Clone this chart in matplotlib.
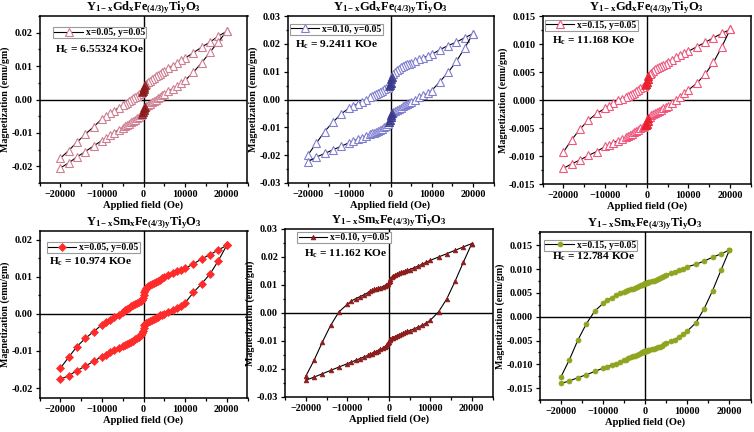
import matplotlib
matplotlib.use("Agg")
import matplotlib.pyplot as plt
from matplotlib.ticker import MultipleLocator, FormatStrFormatter

plt.rcParams['font.family'] = ['Liberation Serif', 'DejaVu Serif']
plt.rcParams['font.weight'] = 'bold'
plt.rcParams['mathtext.fontset'] = 'custom'
plt.rcParams['mathtext.rm'] = 'Liberation Serif:bold'
plt.rcParams['mathtext.it'] = 'Liberation Serif:bold'
plt.rcParams['mathtext.bf'] = 'Liberation Serif:bold'

# Applied field, descending branch (upper) ; lower branch uses the reverse order
H_up = [20000, 18000, 16000, 14000, 12000, 10000, 9000, 8000, 7000, 6000, 5000, 4500, 4000,
        3500, 3000, 2500, 2000, 1500, 1000, 700, 400, 200, 0, -200, -400, -700, -1000, -1500,
        -2000, -2500, -3000, -3500, -4000, -4500, -5000, -6000, -7000, -8000, -9000, -10000,
        -12000, -14000, -16000, -18000, -20000]
H_low = H_up[::-1]

# Gd x=0.05
gd05_up = [.0204, .0190, .0172, .0157, .0140, .0124, .0117, .0109, .0101, .0093, .0085, .0081, .0077,
           .0073, .0069, .0065, .0060, .0056, .0051, .0047, .0042, .0036, .0030, .0025, .0021, .0018,
           .0015, .0011, .0007, .0003, -.0001, -.0005, -.0009, -.0013, -.0017, -.0025, -.0033, -.0041,
           -.0049, -.0058, -.0082, -.0104, -.0128, -.0153, -.0176]
gd05_low = [-.0205, -.0190, -.0172, -.0156, -.0139, -.0123, -.0115, -.0107, -.0099, -.0091, -.0084,
            -.0080, -.0076, -.0072, -.0068, -.0064, -.0060, -.0056, -.0051, -.0047, -.0042, -.0037,
            -.0032, -.0026, -.0022, -.0019, -.0016, -.0012, -.0008, -.0004, .0000, .0004, .0008, .0012,
            .0016, .0024, .0032, .0040, .0048, .0057, .0082, .0110, .0142, .0173, .0204]
# Gd x=0.10
gd10_up = [.0236, .0222, .0206, .0194, .0179, .0162, .0156, .0150, .0144, .0138, .0132, .0129, .0126,
           .0123, .0119, .0115, .0111, .0106, .0099, .0092, .0082, .0072, .0060, .0052, .0047, .0043,
           .0040, .0036, .0032, .0028, .0024, .0020, .0016, .0012, .0008, -.0001, -.0009, -.0016,
           -.0023, -.0030, -.0052, -.0082, -.0115, -.0157, -.0198]
gd10_low = [-.0223, -.0207, -.0194, -.0181, -.0168, -.0155, -.0149, -.0143, -.0137, -.0131, -.0125,
            -.0122, -.0119, -.0116, -.0113, -.0109, -.0105, -.0100, -.0094, -.0088, -.0080, -.0072,
            -.0062, -.0054, -.0048, -.0044, -.0041, -.0037, -.0033, -.0029, -.0025, -.0021, -.0017,
            -.0013, -.0009, .0000, .0008, .0015, .0022, .0032, .0064, .0098, .0137, .0185, .0236]
# Gd x=0.15
gd15_up = [.0126, .0119, .0111, .0103, .0095, .0087, .0084, .0081, .0076, .0071, .0067, .0065, .0063,
           .0061, .0059, .0057, .0055, .0052, .0049, .0046, .0042, .0038, .0033, .0029, .0027, .0025,
           .0024, .0021, .0018, .0016, .0013, .0011, .0009, .0007, .0005, .0002, .0000, -.0006,
           -.0010, -.0015, -.0024, -.0036, -.0052, -.0071, -.0093]
gd15_low = [-.0122, -.0114, -.0107, -.0099, -.0092, -.0083, -.0080, -.0076, -.0073, -.0070, -.0066,
            -.0064, -.0062, -.0060, -.0058, -.0055, -.0053, -.0050, -.0048, -.0046, -.0045, -.0044,
            -.0042, -.0038, -.0033, -.0030, -.0027, -.0025, -.0023, -.0021, -.0019, -.0017, -.0015,
            -.0013, -.0011, -.0006, .0000, .0006, .0012, .0018, .0030, .0046, .0067, .0095, .0126]
# Sm x=0.05
sm05_up = [.0185, .0173, .0160, .0149, .0135, .0123, .0119, .0115, .0110, .0104, .0099, .0096, .0093,
           .0090, .0087, .0084, .0081, .0078, .0075, .0071, .0065, .0058, .0050, .0042, .0037, .0034,
           .0032, .0030, .0027, .0024, .0021, .0017, .0014, .0010, .0006, -.0002, -.0009, -.0016,
           -.0022, -.0029, -.0048, -.0066, -.0088, -.0117, -.0147]
sm05_low = [-.0176, -.0167, -.0153, -.0141, -.0128, -.0115, -.0110, -.0104, -.0098, -.0092, -.0087,
            -.0084, -.0081, -.0078, -.0075, -.0072, -.0069, -.0066, -.0062, -.0058, -.0052, -.0045,
            -.0038, -.0031, -.0027, -.0024, -.0022, -.0019, -.0016, -.0013, -.0010, -.0007, -.0004,
            -.0002, .0001, .0006, .0011, .0016, .0022, .0030, .0058, .0082, .0108, .0144, .0185]
# Sm x=0.10
sm10_up = [.0248, .0236, .0224, .0212, .0200, .0188, .0181, .0174, .0167, .0161, .0155, .0153, .0150,
           .0148, .0145, .0142, .0139, .0135, .0131, .0127, .0122, .0116, .0110, .0104, .0101, .0099,
           .0097, .0094, .0091, .0089, .0086, .0084, .0081, .0077, .0073, .0065, .0058, .0051, .0043,
           .0031, .0004, -.0044, -.0104, -.0169, -.0226]
sm10_low = [-.0240, -.0229, -.0217, -.0205, -.0193, -.0181, -.0175, -.0169, -.0163, -.0157, -.0151,
            -.0148, -.0145, -.0141, -.0138, -.0134, -.0130, -.0126, -.0121, -.0117, -.0112, -.0108,
            -.0104, -.0097, -.0093, -.0090, -.0088, -.0085, -.0081, -.0078, -.0075, -.0072, -.0069,
            -.0066, -.0063, -.0057, -.0051, -.0044, -.0036, -.0026, .0004, .0051, .0114, .0182, .0248]
# Sm x=0.15
sm15_up = [.0140, .0132, .0125, .0117, .0110, .0105, .0101, .0098, .0094, .0091, .0088, .0086, .0084,
           .0082, .0080, .0078, .0076, .0075, .0073, .0072, .0071, .0070, .0070, .0069, .0068, .0067,
           .0066, .0065, .0063, .0061, .0059, .0058, .0056, .0054, .0052, .0049, .0045, .0040, .0035,
           .0028, .0012, -.0015, -.0049, -.0090, -.0126]
sm15_low = [-.0140, -.0135, -.0128, -.0122, -.0115, -.0108, -.0105, -.0101, -.0099, -.0096, -.0092,
            -.0090, -.0087, -.0085, -.0083, -.0082, -.0080, -.0078, -.0076, -.0075, -.0074, -.0073,
            -.0073, -.0072, -.0071, -.0070, -.0069, -.0068, -.0068, -.0066, -.0064, -.0063, -.0061,
            -.0058, -.0056, -.0052, -.0048, -.0043, -.0037, -.0030, -.0013, .0017, .0055, .0098, .0140]

titles = [r'$\mathrm{Y_{1-x}Gd_{x}Fe_{(4/3)y}Ti_{y}O_{3}}$'] * 3 + \
         [r'$\mathrm{Y_{1-x}Sm_{x}Fe_{(4/3)y}Ti_{y}O_{3}}$'] * 3
legend_labels = ['x=0.05, y=0.05', 'x=0.10, y=0.05', 'x=0.15, y=0.05',
                 'x=0.05, y=0.05', 'x=0.10, y=0.05', 'x=0.15, y=0.05']
hc_values = ['6.55324', '9.2411', '11.168', '10.974', '11.162', '12.784']
ups = [gd05_up, gd10_up, gd15_up, sm05_up, sm10_up, sm15_up]
lows = [gd05_low, gd10_low, gd15_low, sm05_low, sm10_low, sm15_low]

# styling
positions = [
    (39.5, 16, 247.5, 183), (287.5, 16, 493.5, 183), (542.5, 16, 751, 184),
    (39.5, 231, 247.5, 398), (285, 229, 492.5, 397), (540, 232, 750.5, 400),
]
ylims = [(-0.025, 0.025), (-0.03, 0.03), (-0.015, 0.015),
         (-0.0227, 0.0224), (-0.03, 0.03), (-0.0175, 0.0178)]
ymajor = [0.01, 0.01, 0.005, 0.01, 0.01, 0.005]
yfmt = ['%.2f', '%.2f', '%.3f', '%.2f', '%.2f', '%.3f']
legend_anchor = [(0.065, 0.935), (0.01, 0.955), (0.01, 0.978),
                 (0.034, 0.935), (0.06, 0.982), (0.02, 0.955)]
hc_pos = [(0.075, 0.795), (0.037, 0.825), (0.044, 0.85),
          (0.045, 0.815), (0.09, 0.85), (0.055, 0.85)]
styles = [
    dict(marker='^', mfc='white', mec='#cf7f92', ms=6, mew=0.8),
    dict(marker='^', mfc='white', mec='#7f7fcf', ms=6, mew=0.8),
    dict(marker='^', mfc='white', mec='#f0567c', ms=6, mew=0.8),
    dict(marker='D', mfc='#ff2a2a', mec='#ff2a2a', ms=4.2, mew=0.5),
    dict(marker='^', mfc='#8e1c1c', mec='#8e1c1c', ms=3.4, mew=0.5),
    dict(marker='o', mfc='#8fa51f', mec='#8fa51f', ms=3.6, mew=0.5),
]
dense_color = ['#8b1a1a', '#3a3a8c', '#e8202c', None, None, None]

W, Hh = 754, 432
fig = plt.figure(figsize=(W / 100, Hh / 100), dpi=100)

for i in range(6):
    l, t, r, b = positions[i]
    ax = fig.add_axes([l / W, 1 - b / Hh, (r - l) / W, (b - t) / Hh])
    st = styles[i]
    ax.plot(H_up, ups[i], color='black', lw=0.8, label=legend_labels[i], **st)
    ax.plot(H_low, lows[i], color='black', lw=0.8, **st)
    if dense_color[i]:
        for hs, ms_ in ((H_up, ups[i]), (H_low, lows[i])):
            hx = [h for h in hs if abs(h) <= 400]
            my = [m for h, m in zip(hs, ms_) if abs(h) <= 400]
            ax.plot(hx, my, ls='none', marker='^', mfc=dense_color[i], mec=dense_color[i],
                    ms=5.5, mew=0.6, alpha=0.8)
    ax.axhline(0, color='black', lw=1.0, zorder=0.5)
    ax.axvline(0, color='black', lw=1.0, zorder=0.5)
    ax.set_xlim(-25000, 25000)
    ax.set_ylim(*ylims[i])
    ax.xaxis.set_major_locator(MultipleLocator(10000))
    ax.xaxis.set_minor_locator(MultipleLocator(5000))
    ax.yaxis.set_major_locator(MultipleLocator(ymajor[i]))
    ax.yaxis.set_minor_locator(MultipleLocator(ymajor[i] / 2))
    ax.yaxis.set_major_formatter(FormatStrFormatter(yfmt[i]))
    ax.tick_params(which='both', direction='out', top=False, right=False,
                   labelsize=7.3, width=0.9, pad=2)
    ax.tick_params(which='major', length=3)
    ax.tick_params(which='minor', length=1.8)
    for s in ax.spines.values():
        s.set_linewidth(1.1)
    for lab in ax.get_xticklabels() + ax.get_yticklabels():
        lab.set_fontweight('bold')
    ax.set_xlabel('Applied field (Oe)', fontsize=7.6, fontweight='bold', labelpad=1)
    ax.set_ylabel('Magnetization (emu/gm)', fontsize=7.2, fontweight='bold', labelpad=1)
    ax.set_title(titles[i], fontsize=9, pad=4)
    leg = ax.legend(loc='upper left', bbox_to_anchor=legend_anchor[i],
                    frameon=True, fancybox=False, edgecolor='#9a9a9a', framealpha=1,
                    handlelength=3.0, handletextpad=0.3, borderpad=0.12,
                    borderaxespad=0.0, prop={'weight': 'bold', 'size': 6.9})
    leg.get_frame().set_linewidth(0.8)
    ax.text(hc_pos[i][0], hc_pos[i][1], r'$\mathrm{H_c}$ = ' + hc_values[i] + ' KOe',
            transform=ax.transAxes, fontsize=8.2, fontweight='bold', va='center', ha='left')

fig.savefig('out.png', dpi=100)
